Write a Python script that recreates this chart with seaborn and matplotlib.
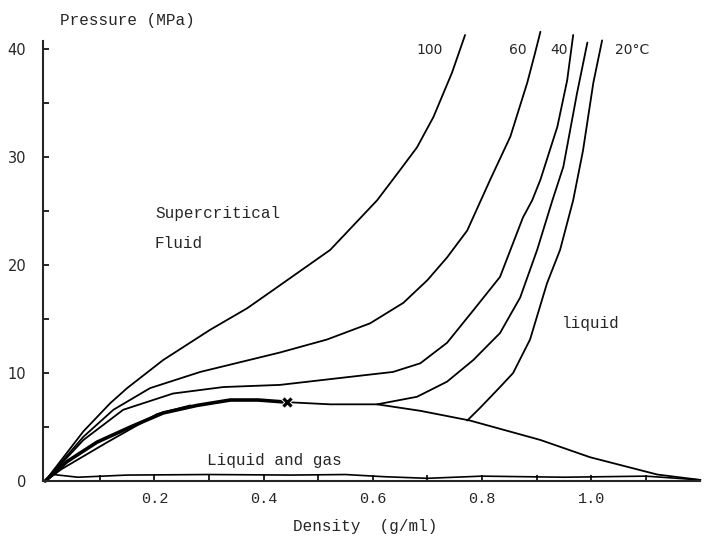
import pandas as pd
import matplotlib.pyplot as plt
import seaborn as sns

sns.set_style("ticks")
plt.rcParams['font.family'] = ['DejaVu Sans']

# isotherms, density (g/ml) vs pressure (MPa)
t100_x = [0, 0.070, 0.119, 0.150, 0.216, 0.302, 0.370, 0.418, 0.522, 0.608, 0.650, 0.681, 0.711, 0.745, 0.769]
t100_y = [0, 4.6, 7.2, 8.6, 11.2, 14.0, 16.0, 17.7, 21.4, 26.0, 28.8, 30.9, 33.7, 37.8, 41.3]

t60_x = [0, 0.070, 0.125, 0.192, 0.284, 0.357, 0.430, 0.516, 0.595, 0.656, 0.700, 0.736, 0.773, 0.815, 0.852, 0.883, 0.897, 0.907]
t60_y = [0, 4.1, 6.6, 8.6, 10.1, 11.0, 11.9, 13.1, 14.6, 16.5, 18.6, 20.7, 23.2, 27.9, 31.9, 36.9, 39.6, 41.6]

t40_x = [0, 0.070, 0.143, 0.234, 0.326, 0.430, 0.516, 0.637, 0.687, 0.736, 0.784, 0.833, 0.875, 0.892, 0.907, 0.938, 0.956, 0.967]
t40_y = [0, 3.8, 6.6, 8.1, 8.7, 8.9, 9.4, 10.1, 10.9, 12.8, 15.8, 18.9, 24.4, 26.0, 27.9, 32.8, 37.1, 41.3]

t31_x = [0.608, 0.681, 0.736, 0.784, 0.833, 0.870, 0.901, 0.929, 0.949, 0.974, 0.993]
t31_y = [7.1, 7.8, 9.2, 11.2, 13.7, 17.0, 21.4, 26.0, 29.1, 35.9, 40.6]

t20_x = [0.773, 0.797, 0.833, 0.857, 0.888, 0.919, 0.943, 0.967, 0.985, 1.004, 1.020]
t20_y = [5.6, 6.8, 8.7, 10.0, 13.1, 18.3, 21.4, 26.0, 30.6, 36.9, 40.8]

# vapour branch below the dome
gas20_x = [0, 0.03, 0.114, 0.205, 0.266]
gas20_y = [0, 1.1, 3.6, 6.2, 7.0]

# coexistence curve
dome_left_x = [0, 0.04, 0.095, 0.156, 0.216, 0.278, 0.339, 0.39, 0.443]
dome_left_y = [0, 1.8, 3.6, 5.0, 6.3, 7.0, 7.5, 7.5, 7.3]
dome_right_x = [0.443, 0.522, 0.608, 0.687, 0.778, 0.907, 0.998, 1.121, 1.2]
dome_right_y = [7.3, 7.1, 7.1, 6.5, 5.6, 3.8, 2.2, 0.6, 0.1]

# low pressure line
low_x = [0, 0.015, 0.06, 0.15, 0.3, 0.45, 0.55, 0.62, 0.7, 0.8, 0.95, 1.1, 1.2]
low_y = [0, 0.6, 0.35, 0.55, 0.6, 0.55, 0.6, 0.4, 0.25, 0.45, 0.35, 0.45, 0.1]

crit_x = [0.443]
crit_y = [7.3]

fig = plt.figure(figsize=(7.04, 5.36), dpi=100)
ax = fig.add_axes([0.0611, 0.1026, 0.933, 0.820])

curves = [
    (t100_x, t100_y, 1.3),
    (t60_x, t60_y, 1.3),
    (t40_x, t40_y, 1.3),
    (t31_x, t31_y, 1.3),
    (t20_x, t20_y, 1.3),
    (gas20_x, gas20_y, 1.3),
    (dome_left_x, dome_left_y, 2.6),
    (dome_right_x, dome_right_y, 1.3),
    (low_x, low_y, 1.2),
]
for xs, ys, lw in curves:
    d = pd.DataFrame({'rho': xs, 'p': ys})
    sns.lineplot(data=d, x='rho', y='p', color='black', linewidth=lw,
                 sort=False, estimator=None, ax=ax, clip_on=False,
                 solid_joinstyle='round', solid_capstyle='round')

sns.scatterplot(x=crit_x, y=crit_y, marker='X', s=70, color='black', ax=ax, zorder=5)

ax.set_xlim(-0.004, 1.199)
ax.set_ylim(0, 40.7)
sns.despine(ax=ax)
ax.spines['left'].set_linewidth(1.5)
ax.spines['bottom'].set_linewidth(1.5)

ax.set_xticks([0.2, 0.4, 0.6, 0.8, 1.0])
ax.set_xticklabels(['0.2', '0.4', '0.6', '0.8', '1.0'], family='Liberation Mono', fontsize=11)
ax.set_xticks([0.1, 0.3, 0.5, 0.7, 0.9, 1.1], minor=True)
ax.set_yticks([0, 10, 20, 30, 40])
ax.set_yticklabels(['0', '10', '20', '30', '40'], fontsize=10.5)
ax.set_yticks([5, 15, 25, 35], minor=True)
ax.tick_params(axis='both', which='both', direction='in', length=4, width=1.2, color='black')
ax.tick_params(axis='y', pad=12)
ax.tick_params(axis='x', pad=8)
ax.set_xlabel('')
ax.set_ylabel('')

mono = 'Liberation Mono'
fig.text(60 / 704, 1 - 20 / 536, 'Pressure (MPa)', family=mono, fontsize=11.5, va='center', ha='left')
fig.text(365 / 704, 1 - 527 / 536, 'Density  (g/ml)', family=mono, fontsize=11.5, va='center', ha='center')

ax.text(0.705, 39.9, '100', fontsize=10, ha='center', va='center')
ax.text(0.865, 39.9, '60', fontsize=10, ha='center', va='center')
ax.text(0.941, 39.9, '40', fontsize=10, ha='center', va='center')
ax.text(1.075, 39.9, '20°C', fontsize=10, ha='center', va='center')

ax.text(0.201, 24.8, 'Supercritical', family=mono, fontsize=11.5, ha='left', va='center')
ax.text(0.201, 22.0, 'Fluid', family=mono, fontsize=11.5, ha='left', va='center')
ax.text(0.947, 14.6, 'liquid', family=mono, fontsize=11.5, ha='left', va='center')
ax.text(0.297, 1.9, 'Liquid and gas', family=mono, fontsize=11.5, ha='left', va='center')

fig.savefig('out.png', dpi=100)
